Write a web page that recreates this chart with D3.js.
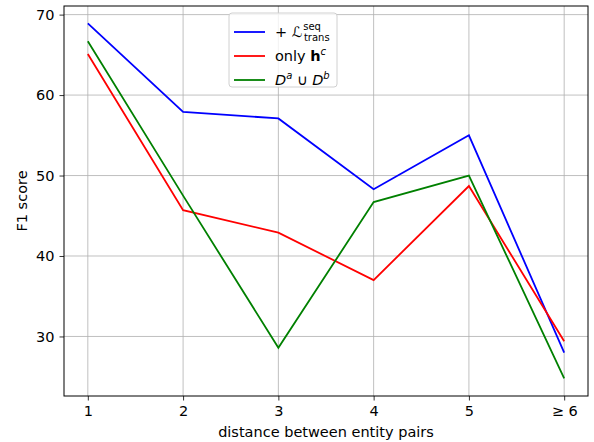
<!DOCTYPE html>
<html>
<head>
<meta charset="utf-8">
<script src="https://cdn.jsdelivr.net/npm/d3@7"></script>
<style>
  body { margin: 0; background: #fff; }
  text { font-family: "DejaVu Sans", sans-serif; }
</style>
</head>
<body>
<script>
var categories = ["1", "2", "3", "4", "5", "\u2265 6"];
var seqTrans = [68.9, 57.9, 57.1, 48.3, 55.0, 28.0];
var onlyHc = [65.1, 45.7, 42.9, 37.0, 48.7, 29.4];
var daUnionDb = [66.7, 47.5, 28.6, 46.7, 50.0, 24.8];
var yTicks = [30, 40, 50, 60, 70];

var series = [
  {key: "seq", values: seqTrans, color: "#0000ff"},
  {key: "hc", values: onlyHc, color: "#ff0000"},
  {key: "dadb", values: daUnionDb, color: "#008000"}
];

var margin = {top: 6, right: 6, bottom: 46, left: 64},
    width = 594 - margin.left - margin.right,
    height = 442 - margin.top - margin.bottom;

var x = d3.scaleLinear().domain([0.75, 6.25]).range([0, width]);
var y = d3.scaleLinear().domain([22.6, 71.07]).range([height, 0]);

var svg = d3.select("body").append("svg")
    .attr("width", 594)
    .attr("height", 442)
  .append("g")
    .attr("transform", "translate(" + margin.left + "," + margin.top + ")");

// grid
svg.append("g").selectAll("line")
    .data(categories)
  .enter().append("line")
    .attr("x1", function(d, i) { return x(i + 1); })
    .attr("x2", function(d, i) { return x(i + 1); })
    .attr("y1", 0).attr("y2", height)
    .style("stroke", "#b0b0b0").style("stroke-width", 0.8);

svg.append("g").selectAll("line")
    .data(yTicks)
  .enter().append("line")
    .attr("x1", 0).attr("x2", width)
    .attr("y1", function(d) { return y(d); })
    .attr("y2", function(d) { return y(d); })
    .style("stroke", "#b0b0b0").style("stroke-width", 0.8);

var line = d3.line()
    .x(function(d, i) { return x(i + 1); })
    .y(function(d) { return y(d); });

series.forEach(function(s) {
  svg.append("path")
      .datum(s.values)
      .attr("fill", "none")
      .style("stroke", s.color)
      .style("stroke-width", 1.8)
      .attr("d", line);
});

// axes
var xAxis = svg.append("g")
    .attr("transform", "translate(0," + height + ")")
    .call(d3.axisBottom(x)
        .tickValues([1, 2, 3, 4, 5, 6])
        .tickFormat(function(d) { return categories[d - 1]; })
        .tickSize(4.5).tickPadding(5));

var yAxis = svg.append("g")
    .call(d3.axisLeft(y).tickValues(yTicks).tickSize(4.5).tickPadding(5));

[xAxis, yAxis].forEach(function(a) {
  a.select(".domain").remove();
  a.selectAll("line").style("stroke", "#000").style("stroke-width", 0.8);
  a.selectAll("text").style("font-size", "14.5px").style("fill", "#000")
    .style("font-family", "DejaVu Sans, sans-serif");
});

svg.append("rect")
    .attr("width", width).attr("height", height)
    .attr("fill", "none").style("stroke", "#000").style("stroke-width", 1);

svg.append("text")
    .attr("x", width / 2)
    .attr("y", height + 41)
    .attr("text-anchor", "middle")
    .style("font-size", "14.5px")
    .text("distance between entity pairs");

svg.append("text")
    .attr("transform", "rotate(-90)")
    .attr("x", -height / 2)
    .attr("y", -37)
    .attr("text-anchor", "middle")
    .style("font-size", "14.5px")
    .text("F1 score");

// legend
var legend = svg.append("g").attr("transform", "translate(165,7)");
legend.append("rect")
    .attr("width", 108).attr("height", 74).attr("rx", 3)
    .attr("fill", "#fff").attr("fill-opacity", 0.8)
    .style("stroke", "#d0d0d0").style("stroke-width", 1);

var rowY = [19, 43, 67];
series.forEach(function(s, i) {
  legend.append("line")
      .attr("x1", 5).attr("x2", 36)
      .attr("y1", rowY[i]).attr("y2", rowY[i])
      .style("stroke", s.color).style("stroke-width", 1.8);
});

var t0 = legend.append("text").attr("x", 46).attr("y", rowY[0] + 5).style("font-size", "14.5px");
t0.append("tspan").text("+ ");
t0.append("tspan").style("font-style", "italic").text("\u2112");
t0.append("tspan").attr("dx", 1).attr("dy", -7).style("font-size", "10px").text("seq");
t0.append("tspan").attr("dx", -17).attr("dy", 11).style("font-size", "10px").text("trans");

var t1 = legend.append("text").attr("x", 46).attr("y", rowY[1] + 5).style("font-size", "14.5px");
t1.append("tspan").text("only ");
t1.append("tspan").style("font-weight", "bold").text("h");
t1.append("tspan").attr("dy", -6).style("font-size", "10px").style("font-style", "italic").text("c");

var t2 = legend.append("text").attr("x", 46).attr("y", rowY[2] + 5).style("font-size", "14.5px");
t2.append("tspan").style("font-style", "italic").text("D");
t2.append("tspan").attr("dy", -6).style("font-size", "10px").style("font-style", "italic").text("a");
t2.append("tspan").attr("dy", 6).text(" \u222A ");
t2.append("tspan").style("font-style", "italic").text("D");
t2.append("tspan").attr("dy", -6).style("font-size", "10px").style("font-style", "italic").text("b");
</script>
</body>
</html>
